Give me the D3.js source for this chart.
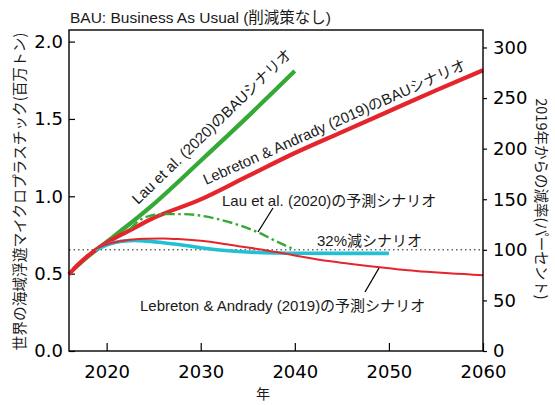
<!DOCTYPE html>
<html><head><meta charset="utf-8">
<script src="https://cdn.jsdelivr.net/npm/d3@7"></script>
<style>
html,body{margin:0;padding:0;background:#fff;}
svg{display:block;}
</style></head>
<body>
<svg id="chart" width="555" height="405"></svg>
<script>
// ---- data ----
const titleText = "BAU: Business As Usual (削減策なし)";
const yLabelLeft = "世界の海域浮遊マイクロプラスチック(百万トン)";
const yLabelRight = "2019年からの減率(パーセント)";
const xLabel = "年";

const xTicks = [2020, 2030, 2040, 2050, 2060];
const yTicksLeft = [0.0, 0.5, 1.0, 1.5, 2.0];
const yTicksRight = [0, 50, 100, 150, 200, 250, 300];

const lauBauYears  = [2016.5, 2018, 2020, 2022, 2025, 2030, 2035, 2040];
const lauBauValues = [0.53, 0.61, 0.705, 0.80, 0.95, 1.23, 1.515, 1.81];

const lebBauYears  = [2016, 2017, 2018, 2019, 2020, 2021, 2022, 2025, 2030, 2035, 2040, 2045, 2050, 2055, 2060];
const lebBauValues = [0.495, 0.56, 0.615, 0.66, 0.70, 0.735, 0.765, 0.86, 0.98, 1.13, 1.28, 1.415, 1.55, 1.685, 1.815];

const lauProjYears  = [2022.5, 2023.5, 2024.5, 2026, 2028, 2030, 2032, 2034, 2036, 2038, 2040];
const lauProjValues = [0.79, 0.845, 0.872, 0.885, 0.885, 0.875, 0.85, 0.815, 0.77, 0.71, 0.655];

const lebProjYears  = [2018.7, 2020, 2021, 2022, 2024, 2026, 2028, 2030, 2032, 2034, 2036, 2038, 2040, 2042, 2044, 2046, 2048, 2050, 2052, 2054, 2056, 2058, 2060];
const lebProjValues = [0.655, 0.69, 0.705, 0.715, 0.725, 0.728, 0.722, 0.712, 0.697, 0.677, 0.66, 0.64, 0.618, 0.597, 0.578, 0.562, 0.548, 0.535, 0.522, 0.512, 0.504, 0.497, 0.49];

const cut32Years  = [2018.8, 2019.5, 2020, 2021, 2022, 2023, 2024, 2026, 2028, 2030, 2032, 2034, 2036, 2038, 2040, 2045, 2050];
const cut32Values = [0.653, 0.672, 0.685, 0.703, 0.712, 0.714, 0.712, 0.70, 0.685, 0.668, 0.653, 0.643, 0.637, 0.634, 0.632, 0.631, 0.631];

const referenceValue = 0.654; // 2019 level = 100%

const labels = {
  lauBau: "Lau et al. (2020)のBAUシナリオ",
  lebBau: "Lebreton & Andrady (2019)のBAUシナリオ",
  lauProj: "Lau et al. (2020)の予測シナリオ",
  lebProj: "Lebreton & Andrady (2019)の予測シナリオ",
  cut32: "32%減シナリオ"
};

// ---- layout ----
const L = 69, R = 483, T = 30, B = 351;
const svg = d3.select("#chart");
const x = d3.scaleLinear().domain([2016, 2060]).range([L, R]);
const y = d3.scaleLinear().domain([0, 2.075]).range([B, T]);
const yR = d3.scaleLinear().domain([0, 2.075 / referenceValue * 100]).range([B, T]);

const latin = "'Liberation Sans', Arial, 'Noto Sans CJK JP', sans-serif";
const cjk = "'Noto Sans CJK JP', 'Liberation Sans', sans-serif";
const tickFont = "'DejaVu Sans', sans-serif";

// axes
const gL = svg.append("g").attr("transform", `translate(${L},0)`)
  .call(d3.axisLeft(y).tickValues(yTicksLeft).tickFormat(d3.format(".1f")).tickSizeInner(-6).tickSizeOuter(0).tickPadding(6));
const gB = svg.append("g").attr("transform", `translate(0,${B})`)
  .call(d3.axisBottom(x).tickValues(xTicks).tickFormat(d3.format("d")).tickSizeInner(-8).tickSizeOuter(0).tickPadding(14.5));
const gR = svg.append("g").attr("transform", `translate(${R},0)`)
  .call(d3.axisRight(yR).tickValues(yTicksRight).tickFormat(d3.format("d")).tickSizeInner(4).tickSizeOuter(0).tickPadding(6));
[gL, gB, gR].forEach(g => {
  g.select(".domain").remove();
  g.selectAll(".tick line").attr("stroke", "#000").attr("stroke-width", 1.2);
  g.selectAll(".tick text").attr("font-family", tickFont).attr("font-size", 18).attr("fill", "#000");
});

// dotted reference line
svg.append("line")
  .attr("x1", L).attr("x2", R).attr("y1", y(referenceValue)).attr("y2", y(referenceValue))
  .attr("stroke", "#000").attr("stroke-width", 0.9).attr("stroke-dasharray", "1.5,3");

const line = d3.line().x(d => x(d[0])).y(d => y(d[1])).curve(d3.curveMonotoneX);
const zip = (a, b) => a.map((v, i) => [v, b[i]]);

svg.append("path").attr("d", line(zip(lauBauYears, lauBauValues)))
  .attr("fill", "none").attr("stroke", "#35a935").attr("stroke-width", 4.2).attr("stroke-linecap", "butt");
svg.append("path").attr("d", line(zip(lebBauYears, lebBauValues)))
  .attr("fill", "none").attr("stroke", "#e4262c").attr("stroke-width", 4.2);
svg.append("path").attr("d", line(zip(lauProjYears, lauProjValues)))
  .attr("fill", "none").attr("stroke", "#35a935").attr("stroke-width", 2.4).attr("stroke-dasharray", "10,3.5,2.5,3.5");
svg.append("path").attr("d", line(zip(cut32Years, cut32Values)))
  .attr("fill", "none").attr("stroke", "#22c0d3").attr("stroke-width", 3.6);
svg.append("path").attr("d", line(zip(lebProjYears, lebProjValues)))
  .attr("fill", "none").attr("stroke", "#e4262c").attr("stroke-width", 2);

// frame
svg.append("rect").attr("x", L).attr("y", T).attr("width", R - L).attr("height", B - T)
  .attr("fill", "none").attr("stroke", "#000").attr("stroke-width", 1.4);

// title
svg.append("text").attr("x", 70).attr("y", 23).attr("font-family", latin).attr("font-size", 15.5)
  .attr("fill", "#1a1a1a").text(titleText);

// axis labels
svg.append("text").attr("transform", `translate(18,${(T + B) / 2 + 1}) rotate(-90)`)
  .attr("text-anchor", "middle").attr("dominant-baseline", "central")
  .attr("font-family", cjk).attr("font-size", 14.7).attr("fill", "#1a1a1a").text(yLabelLeft);
svg.append("text").attr("transform", `translate(542,199) rotate(90)`)
  .attr("text-anchor", "middle").attr("dominant-baseline", "central")
  .attr("font-family", cjk).attr("font-size", 14.5).attr("fill", "#1a1a1a").text(yLabelRight);
svg.append("text").attr("x", 263).attr("y", 399).attr("text-anchor", "middle")
  .attr("font-family", cjk).attr("font-size", 14).attr("fill", "#1a1a1a").text(xLabel);

// annotations
const ann = (txt, xx, yy, rot) => svg.append("text")
  .attr("transform", `translate(${xx},${yy}) rotate(${rot})`)
  .attr("font-family", latin).attr("font-size", 15).attr("fill", "#1a1a1a").text(txt);
ann(labels.lauBau, 138, 205, -44);
ann(labels.lebBau, 206, 185, -24);
ann(labels.lauProj, 222, 206, 0);
ann(labels.cut32, 317, 246, 0);
ann(labels.lebProj, 140, 311, 0);

// leader lines
svg.append("line").attr("x1", 273).attr("y1", 208).attr("x2", 258).attr("y2", 232)
  .attr("stroke", "#000").attr("stroke-width", 1.3);
svg.append("line").attr("x1", 379).attr("y1", 268).attr("x2", 365).attr("y2", 292)
  .attr("stroke", "#000").attr("stroke-width", 1.3);
</script>
</body></html>
